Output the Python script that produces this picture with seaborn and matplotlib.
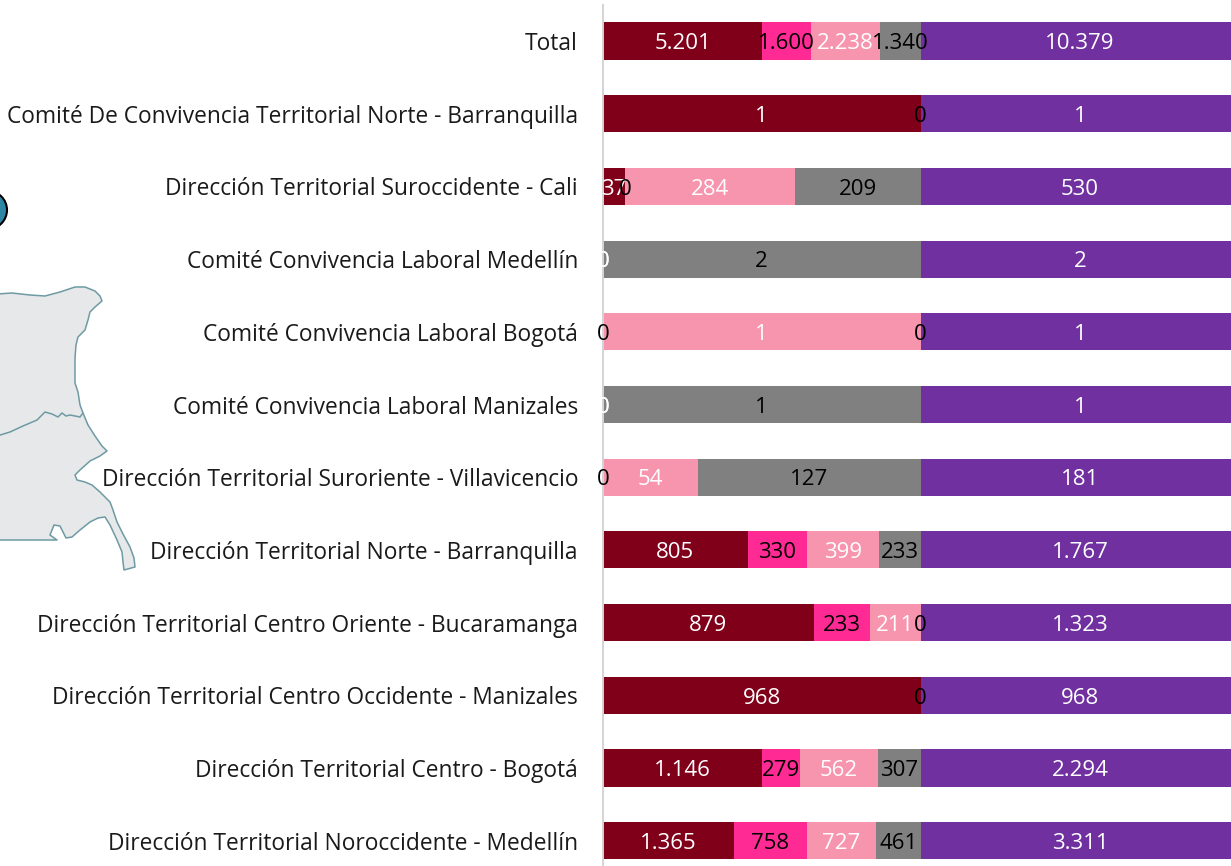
import pandas as pd
import seaborn as sns
import matplotlib.pyplot as plt
from matplotlib.patches import Polygon, Circle

regions = [
    'Total',
    'Comité De Convivencia Territorial Norte - Barranquilla',
    'Dirección Territorial Suroccidente - Cali',
    'Comité Convivencia Laboral Medellín',
    'Comité Convivencia Laboral Bogotá',
    'Comité Convivencia Laboral Manizales',
    'Dirección Territorial Suroriente - Villavicencio',
    'Dirección Territorial Norte - Barranquilla',
    'Dirección Territorial Centro Oriente - Bucaramanga',
    'Dirección Territorial Centro Occidente - Manizales',
    'Dirección Territorial Centro - Bogotá',
    'Dirección Territorial Noroccidente - Medellín',
]

# None = no bar and no label in the source chart
serie_a = [5201, 1, 37, 0, None, 0, None, 805, 879, 968, 1146, 1365]
serie_b = [1600, None, 0, None, 0, None, 0, 330, 233, None, 279, 758]
serie_c = [2238, None, 284, 0, 1, 0, 54, 399, 211, None, 562, 727]
serie_d = [1340, 0, 209, 2, 0, 1, 127, 233, 0, 0, 307, 461]
totals = [10379, 1, 530, 2, 1, 1, 181, 1767, 1323, 968, 2294, 3311]

series = [serie_a, serie_b, serie_c, serie_d]
bar_colors = ['#80001A', '#FF2A94', '#F794AE', '#808080']
text_colors = ['white', 'black', 'white', 'black']
purple = '#7030A0'

# decoration behind the chart, in pixels of the picture
map_outline = [(-3, 294), (12, 293), (30, 295), (45, 296), (60, 292), (75, 287), (85, 287), (95, 291),
               (100, 296), (102, 301), (95, 307), (90, 312), (88, 320), (85, 330), (78, 337), (76, 345),
               (75, 358), (75, 375), (75, 383), (78, 392), (80, 405), (83, 413), (88, 425), (95, 436),
               (102, 446), (107, 451), (100, 456), (90, 461), (80, 470), (75, 475), (77, 480), (85, 482),
               (92, 485), (100, 492), (110, 502), (113, 510), (117, 522), (123, 534), (130, 547), (134, 558),
               (135, 567), (124, 570), (123, 562), (122, 552), (117, 540), (110, 525), (105, 517), (98, 518),
               (90, 522), (80, 530), (72, 537), (66, 538), (60, 526), (54, 525), (50, 535), (57, 540), (-3, 540)]
map_border = [(83, 413), (80, 417), (70, 415), (66, 416), (62, 413), (58, 417), (52, 414), (45, 412),
              (37, 420), (23, 426), (10, 432), (-3, 436)]

sns.set_theme(style='white')
plt.rcParams['font.family'] = ['Open Sans', 'DejaVu Sans']
label_size = 16.35
value_size = 16

fig = plt.figure(figsize=(12.31, 8.66), dpi=100)

back = fig.add_axes([0, 0, 1, 1], zorder=0)
back.set_xlim(0, 1231)
back.set_ylim(866, 0)
back.axis('off')
back.add_patch(Polygon(map_outline, closed=True, facecolor='#E6E8EA', edgecolor='#6E9AA3', linewidth=1.1,
                       joinstyle='round'))
back.plot(*zip(*map_border), color='#6E9AA3', linewidth=1.1)
back.add_patch(Circle((-12, 210), 19, facecolor='#2E86A5', edgecolor='black', linewidth=1.5))

top_px = 4.65
row_px = 72.7
height = (866 - top_px) / 866
ax = fig.add_axes([603 / 1231, 0, 317.5 / 1231, height], zorder=2)
# the purple panel runs past the right edge of the picture
ax_total = fig.add_axes([920.5 / 1231, 0, 319 / 1231, height], zorder=1)
ax.patch.set_visible(False)


def add_labels(a, labels, color):
    for t in a.bar_label(a.containers[-1], labels=labels, label_type='center', color=color, fontsize=value_size):
        t.xyann = (0, -2)


# 100% stacked bars
left = [0.0] * len(regions)
for values, bar_color, text_color in zip(series, bar_colors, text_colors):
    df = pd.DataFrame({'region': regions, 'value': values, 'total': totals, 'left': left}).dropna(subset=['value'])
    df['share'] = df['value'] / df['total']
    sns.barplot(data=df, y='region', x='share', order=regions, left=df['left'].values, color=bar_color,
                saturation=1, width=0.51, errorbar=None, linewidth=0, ax=ax)
    add_labels(ax, [f'{int(v):,}'.replace(',', '.') for v in df['value']], text_color)
    left = [l + (v or 0) / t for l, v, t in zip(left, values, totals)]

sns.barplot(y=regions, x=[1.0] * len(regions), order=regions, color=purple, saturation=1, width=0.51,
            errorbar=None, linewidth=0, ax=ax_total)
add_labels(ax_total, [f'{v:,}'.replace(',', '.') for v in totals], 'white')

y_bottom = (866 - top_px) / row_px - 0.5
for a in (ax, ax_total):
    a.set_xlim(0, 1)
    a.set_ylim(y_bottom, -0.5)
    a.set_xlabel('')
    a.set_ylabel('')
    a.set_xticks([])
    sns.despine(ax=a, left=True, bottom=True)

ax.spines['left'].set_visible(True)
ax.spines['left'].set_color('#D4D4D4')
ax.spines['left'].set_linewidth(1.4)
ax.tick_params(axis='y', length=0, pad=18, labelsize=label_size, labelcolor='#1A1A1A')
ax_total.set_yticks([])

fig.savefig('out.png', dpi=100)
